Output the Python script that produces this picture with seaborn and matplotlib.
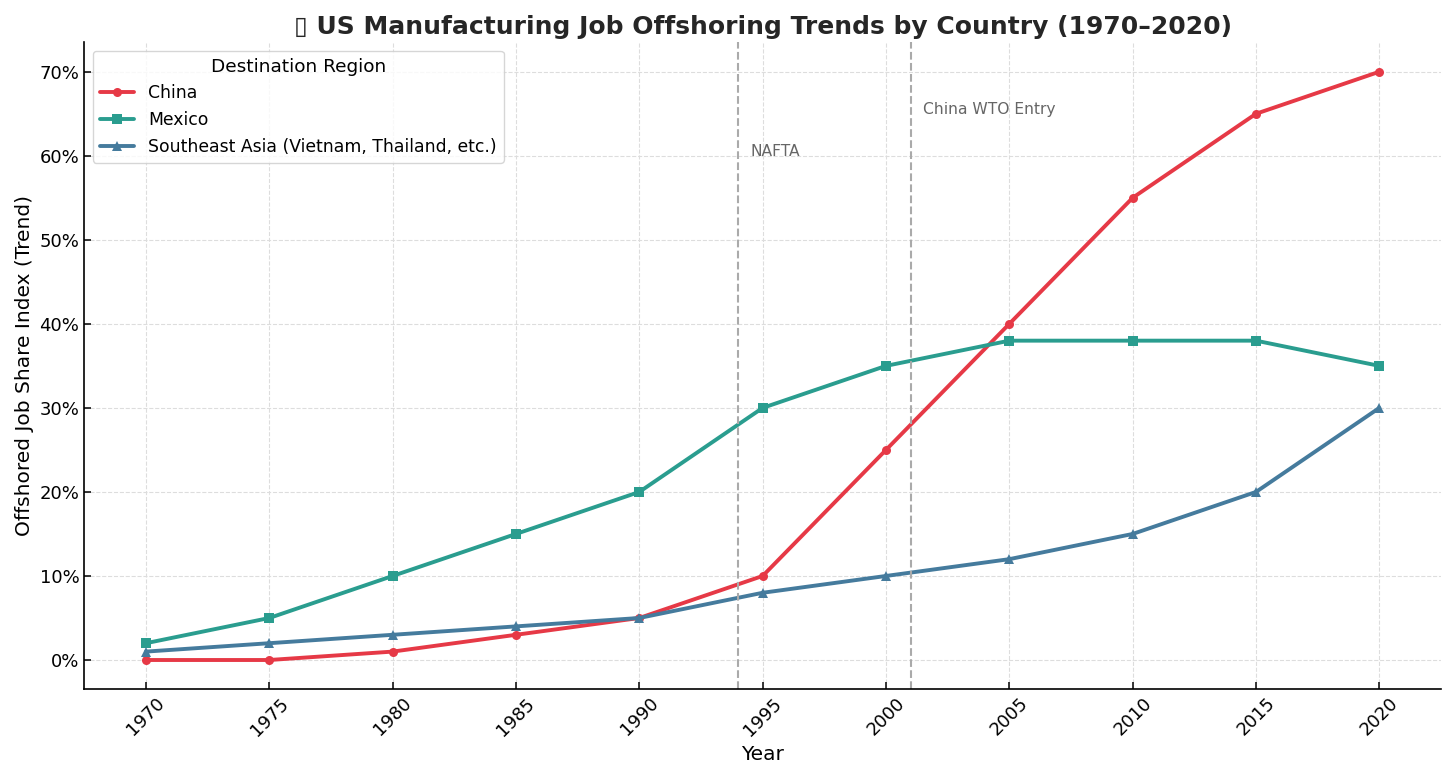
import matplotlib.pyplot as plt
import matplotlib.ticker as mticker
import numpy as np
import pandas as pd
import seaborn as sns

years = [1970, 1975, 1980, 1985, 1990, 1995, 2000, 2005, 2010, 2015, 2020]
china = [0, 0, 1, 3, 5, 10, 25, 40, 55, 65, 70]
mexico = [2, 5, 10, 15, 20, 30, 35, 38, 38, 38, 35]
se_asia = [1, 2, 3, 4, 5, 8, 10, 12, 15, 20, 30]

series_names = ["China", "Mexico", "Southeast Asia (Vietnam, Thailand, etc.)"]
series_values = [china, mexico, se_asia]
colors = ["#e63946", "#2a9d8f", "#457b9d"]
markers = ["o", "s", "^"]

events = [(1994, "NAFTA", 60), (2001, "China WTO Entry", 65)]

sns.set_style("ticks")
plt.rcParams['font.family'] = ['DejaVu Sans']
plt.rcParams['axes.edgecolor'] = 'black'
plt.rcParams['xtick.color'] = 'black'
plt.rcParams['ytick.color'] = 'black'
plt.rcParams['text.color'] = 'black'
plt.rcParams['axes.labelcolor'] = 'black'

fig, ax = plt.subplots(figsize=(14.56, 7.79), dpi=100)

for name, vals, c, m in zip(series_names, series_values, colors, markers):
    df = pd.DataFrame({"Year": years, "Share": vals})
    sns.lineplot(data=df, x="Year", y="Share", ax=ax, color=c, marker=m,
                 linewidth=2.8, markersize=6.5, markeredgewidth=0, label=name)

# policy milestones
for yr, txt, ypos in events:
    ax.axvline(yr, color="#aaaaaa", linestyle="--", linewidth=1.5)
    ax.text(yr + 0.5, ypos, txt, color="#666666", fontsize=11.2)

ax.set_xticks(years)
ax.tick_params(axis="x", rotation=45)
ax.tick_params(direction="in", labelsize=13, length=5, width=1.1)
ax.yaxis.set_major_formatter(mticker.FuncFormatter(lambda v, p: f"{int(v)}%"))
ax.grid(True, linestyle="--", color="#dddddd", linewidth=0.8)
for s in ["left", "bottom"]:
    ax.spines[s].set_linewidth(1.2)
sns.despine(ax=ax)

ax.set_xlabel("Year", fontsize=14.5)
ax.set_ylabel("Offshored Job Share Index (Trend)", fontsize=14.5)
ax.set_title("\u25AF US Manufacturing Job Offshoring Trends by Country (1970\u20132020)",
             fontsize=18, fontweight="bold", color="#262626")

ax.legend(title="Destination Region", loc="upper left", fontsize=12.4, title_fontsize=13.3)

plt.tight_layout()
fig.savefig("out.png", dpi=100)
